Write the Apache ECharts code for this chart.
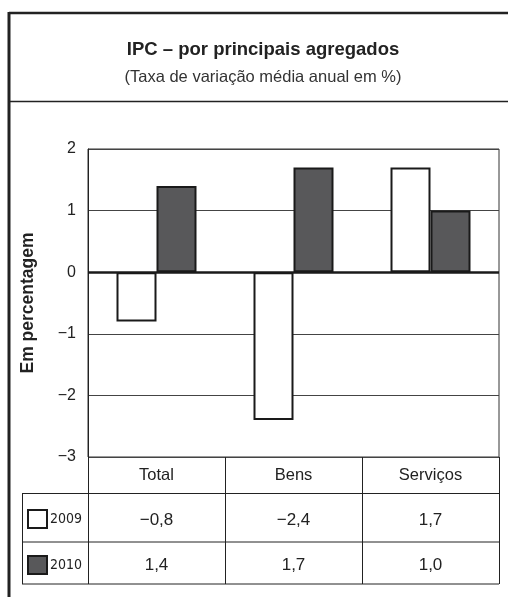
<!DOCTYPE html>
<html>
<head>
<meta charset="utf-8">
<script src="https://cdn.jsdelivr.net/npm/echarts@6/dist/echarts.min.js"></script>
<style>
html,body{margin:0;padding:0;background:#fff;}
#chart{width:508px;height:597px;}
</style>
</head>
<body>
<div id="chart"></div>
<script>
var categories = ['Total', 'Bens', 'Serviços'];
var seriesNames = ['2009', '2010'];
var values2009 = [-0.8, -2.4, 1.7];
var values2010 = [1.4, 1.7, 1.0];
var yTicks = [-3, -2, -1, 0, 1, 2];

function fmt(v) {
  var s = Math.abs(v).toFixed(1).replace('.', ',');
  return (v < 0 ? '\u2212' : '') + s;
}

var FONT = 'Liberation Sans, Arial, sans-serif';
var chart = echarts.init(document.getElementById('chart'), null, {renderer: 'canvas'});

var catAxisBase = {
  type: 'category',
  data: categories,
  position: 'bottom',
  axisLine: {show: false, onZero: false},
  axisTick: {show: false},
  splitLine: {show: false}
};

var option = {
  backgroundColor: '#fff',
  animation: false,
  title: {
    text: 'IPC \u2013 por principais agregados',
    subtext: '(Taxa de variação média anual em %)',
    left: 258,
    textAlign: 'center',
    top: 35,
    itemGap: 10,
    textStyle: {fontFamily: FONT, fontSize: 18.5, fontWeight: 'bold', color: '#222'},
    subtextStyle: {fontFamily: FONT, fontSize: 16.5, color: '#333'}
  },
  legend: {
    orient: 'vertical',
    left: 27,
    top: 509,
    padding: 0,
    itemWidth: 19,
    itemHeight: 18,
    itemGap: 26,
    icon: 'rect',
    data: seriesNames,
    textStyle: {fontFamily: 'DejaVu Sans Condensed, Liberation Sans, sans-serif', fontSize: 14, color: '#222', padding: [0, 0, 0, -2]}
  },
  grid: {
    left: 88, right: 9, top: 149, bottom: 140,
    show: true, borderColor: '#333', borderWidth: 1, containLabel: false
  },
  xAxis: [
    Object.assign({}, catAxisBase, {
      axisTick: {show: true, alignWithLabel: false, length: 127, lineStyle: {color: '#222', width: 1}},
      axisLabel: {margin: 10, fontFamily: FONT, fontSize: 16.5, color: '#222'}
    }),
    Object.assign({}, catAxisBase, {
      axisLabel: {margin: 55, fontFamily: FONT, fontSize: 17, color: '#222',
        formatter: function (v, i) { return fmt(values2009[i]); }}
    }),
    Object.assign({}, catAxisBase, {
      axisLabel: {margin: 100, fontFamily: FONT, fontSize: 17, color: '#222',
        formatter: function (v, i) { return fmt(values2010[i]); }}
    })
  ],
  yAxis: {
    type: 'value',
    min: yTicks[0],
    max: yTicks[yTicks.length - 1],
    interval: 1,
    name: 'Em percentagem',
    nameLocation: 'middle',
    nameRotate: 90,
    nameGap: 51,
    nameTextStyle: {fontFamily: FONT, fontSize: 17.5, fontWeight: 'bold', color: '#222', padding: [0, 0, 0, 0]},
    axisLine: {show: true, lineStyle: {color: '#222', width: 1}},
    axisTick: {show: false},
    axisLabel: {margin: 12, fontFamily: FONT, fontSize: 16, color: '#222',
      formatter: function (v) { return v < 0 ? '\u2212' + Math.abs(v) : String(v); }},
    splitLine: {show: true, lineStyle: {color: '#444', width: 1}}
  },
  series: [
    {
      name: seriesNames[0], type: 'bar', xAxisIndex: 0, data: values2009,
      barWidth: 40, barGap: '0%',
      itemStyle: {color: '#ffffff', borderColor: '#1a1a1a', borderWidth: 2},
      markLine: {
        silent: true, symbol: 'none', label: {show: false},
        lineStyle: {color: '#1a1a1a', width: 2.5, type: 'solid'},
        data: [{yAxis: 0}]
      }
    },
    {
      name: seriesNames[1], type: 'bar', xAxisIndex: 0, data: values2010,
      barWidth: 40, barGap: '0%',
      itemStyle: {color: '#58585a', borderColor: '#1a1a1a', borderWidth: 2}
    }
  ],
  graphic: [
    // outer frame
    {type: 'line', shape: {x1: 9, y1: 13, x2: 508, y2: 13}, style: {stroke: '#222', lineWidth: 2.5}},
    {type: 'line', shape: {x1: 9, y1: 12, x2: 9, y2: 597}, style: {stroke: '#222', lineWidth: 3}},
    {type: 'line', shape: {x1: 9, y1: 101.5, x2: 508, y2: 101.5}, style: {stroke: '#222', lineWidth: 1.5}},
    // table lines
    {type: 'line', shape: {x1: 22, y1: 493.5, x2: 499, y2: 493.5}, style: {stroke: '#222', lineWidth: 1}},
    {type: 'line', shape: {x1: 22, y1: 542, x2: 499, y2: 542}, style: {stroke: '#222', lineWidth: 1}},
    {type: 'line', shape: {x1: 22, y1: 584, x2: 499, y2: 584}, style: {stroke: '#222', lineWidth: 1}},
    {type: 'line', shape: {x1: 22.5, y1: 493.5, x2: 22.5, y2: 584}, style: {stroke: '#222', lineWidth: 1}}
  ]
};
chart.setOption(option);
</script>
</body>
</html>
